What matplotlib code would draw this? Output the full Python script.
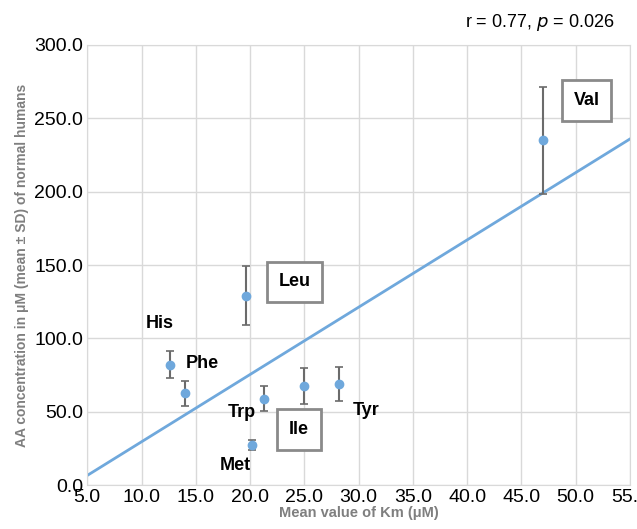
import matplotlib.pyplot as plt
import numpy as np

plt.rcParams['font.family'] = ['Liberation Sans', 'DejaVu Sans']

# Data
amino_acids = ['His', 'Phe', 'Leu', 'Met', 'Trp', 'Ile', 'Tyr', 'Val']
km_mean = [12.6, 14.0, 19.6, 20.2, 21.3, 25.0, 28.2, 47.0]
aa_conc = [82.0, 62.5, 129.0, 27.3, 59.0, 67.5, 68.8, 235.0]
aa_sd = [9.3, 8.5, 20.0, 3.7, 8.3, 12.2, 11.5, 36.5]

# label positions (data coords) and whether the label is boxed
label_x = [11.7, 15.6, 24.1, 18.6, 19.2, 24.5, 30.7, 51.0]
label_y = [110.0, 83.0, 138.5, 13.5, 49.5, 38.0, 51.0, 262.0]
boxed = [False, False, True, False, False, True, False, True]

x_ticks = np.arange(5, 55.1, 5)
y_ticks = np.arange(0, 300.1, 50)

point_color = '#6fa8dc'
bar_color = '#6b6b6b'
label_gray = '#7f7f7f'

fig = plt.figure(figsize=(6.37, 5.29), dpi=100)
ax = fig.add_axes([0.137, 0.083, 0.852, 0.832])

# regression line
coef = np.polyfit(km_mean, aa_conc, 1)
xl = np.array([5, 55])
ax.plot(xl, np.polyval(coef, xl), color=point_color, lw=2, zorder=2)

ax.errorbar(km_mean, aa_conc, yerr=aa_sd, fmt='o', color=point_color,
            ms=6, ecolor=bar_color, elinewidth=1.5, capsize=3, capthick=1.2,
            zorder=3)

for name, lx, ly, b in zip(amino_acids, label_x, label_y, boxed):
    kw = {}
    if b:
        kw['bbox'] = dict(boxstyle='square,pad=0.65', facecolor='white',
                          edgecolor='#8a8a8a', linewidth=2)
    ax.text(lx, ly, name, ha='center', va='center', fontsize=13,
            fontweight='bold', color='black', zorder=4, **kw)

ax.set_xlim(5, 55)
ax.set_ylim(0, 300)
ax.set_xticks(x_ticks)
ax.set_yticks(y_ticks)
ax.set_xticklabels([f'{v:.1f}' for v in x_ticks], fontsize=14)
ax.set_yticklabels([f'{v:.1f}' for v in y_ticks], fontsize=14)
ax.tick_params(length=0, pad=3)
ax.grid(True, color='#d9d9d9', lw=1)
ax.set_axisbelow(True)
for s in ax.spines.values():
    s.set_color('#d9d9d9')

ax.set_xlabel('Mean value of Km (μM)', fontsize=10.5, fontweight='bold',
              color=label_gray, labelpad=0)
ax.set_ylabel('AA concentration in μM (mean ± SD) of normal humans',
              fontsize=10, fontweight='bold', color=label_gray, labelpad=4)

fig.text(0.965, 0.958, r'r = 0.77, $\it{p}$ = 0.026', ha='right', va='center',
         fontsize=13)

fig.savefig('out.png', dpi=100)
